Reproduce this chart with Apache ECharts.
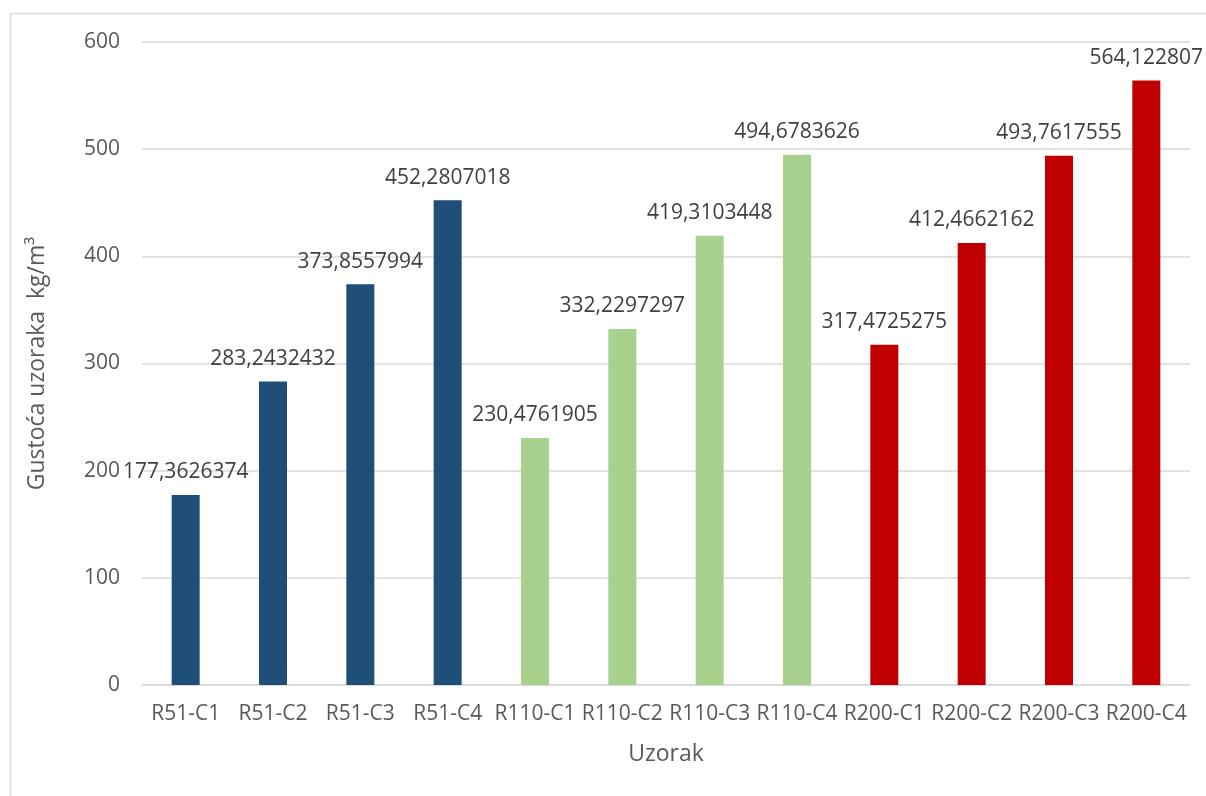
<!DOCTYPE html>
<html>
<head>
<meta charset="utf-8">
<script src="https://cdn.jsdelivr.net/npm/echarts@6/dist/echarts.min.js"></script>
<style>
html,body{margin:0;padding:0;background:#fff;}
#chart{width:1206px;height:796px;}
</style>
</head>
<body>
<div id="chart"></div>
<script>
var categories = ['R51-C1','R51-C2','R51-C3','R51-C4','R110-C1','R110-C2','R110-C3','R110-C4','R200-C1','R200-C2','R200-C3','R200-C4'];
var values = [177.3626374, 283.2432432, 373.8557994, 452.2807018, 230.4761905, 332.2297297, 419.3103448, 494.6783626, 317.4725275, 412.4662162, 493.7617555, 564.122807];
var labelTexts = ['177,3626374','283,2432432','373,8557994','452,2807018','230,4761905','332,2297297','419,3103448','494,6783626','317,4725275','412,4662162','493,7617555','564,122807'];
var groupColors = ['#1f4e79','#1f4e79','#1f4e79','#1f4e79','#a9d18e','#a9d18e','#a9d18e','#a9d18e','#c00000','#c00000','#c00000','#c00000'];
var yTicks = [0,100,200,300,400,500,600];

var FONT = "'Open Sans', 'Liberation Sans', sans-serif";
var chart = echarts.init(document.getElementById('chart'), null, {renderer:'canvas'});
chart.setOption({
  animation:false,
  backgroundColor:'#ffffff',
  graphic:[
    {type:'line', shape:{x1:10.5,y1:13.5,x2:1206,y2:13.5}, style:{stroke:'#d9d9d9',lineWidth:1.5}, silent:true},
    {type:'line', shape:{x1:10.5,y1:13.5,x2:10.5,y2:796}, style:{stroke:'#d9d9d9',lineWidth:1.5}, silent:true}
  ],
  grid:{left:142,right:16,top:42,bottom:111,containLabel:false},
  xAxis:{
    type:'category',
    data:categories,
    name:'Uzorak',
    nameLocation:'middle',
    nameGap:58,
    nameTextStyle:{fontFamily:FONT,fontSize:23,color:'#595959'},
    axisLine:{show:true,lineStyle:{color:'#d9d9d9',width:1.5}},
    axisTick:{show:false},
    axisLabel:{fontFamily:FONT,fontSize:21,color:'#595959',margin:19,interval:0}
  },
  yAxis:{
    type:'value',
    min:0,max:600,interval:100,
    name:'Gustoća uzoraka  kg/m³',
    nameLocation:'middle',
    nameGap:93,
    nameRotate:90,
    nameTextStyle:{fontFamily:FONT,fontSize:23,color:'#595959'},
    axisLine:{show:false},
    axisTick:{show:false},
    splitLine:{show:true,lineStyle:{color:'#d9d9d9',width:1.5}},
    axisLabel:{fontFamily:FONT,fontSize:21,color:'#595959',margin:22,
      formatter:function(v){return yTicks.indexOf(v)>=0?String(v):'';}}
  },
  series:[{
    type:'bar',
    barWidth:28,
    data:values.map(function(v,i){return {value:v,itemStyle:{color:groupColors[i]}};}),
    label:{
      show:true,position:'top',distance:12,
      fontFamily:FONT,fontSize:21,color:'#404040',
      formatter:function(p){return labelTexts[p.dataIndex];}
    }
  }]
});
</script>
</body>
</html>
